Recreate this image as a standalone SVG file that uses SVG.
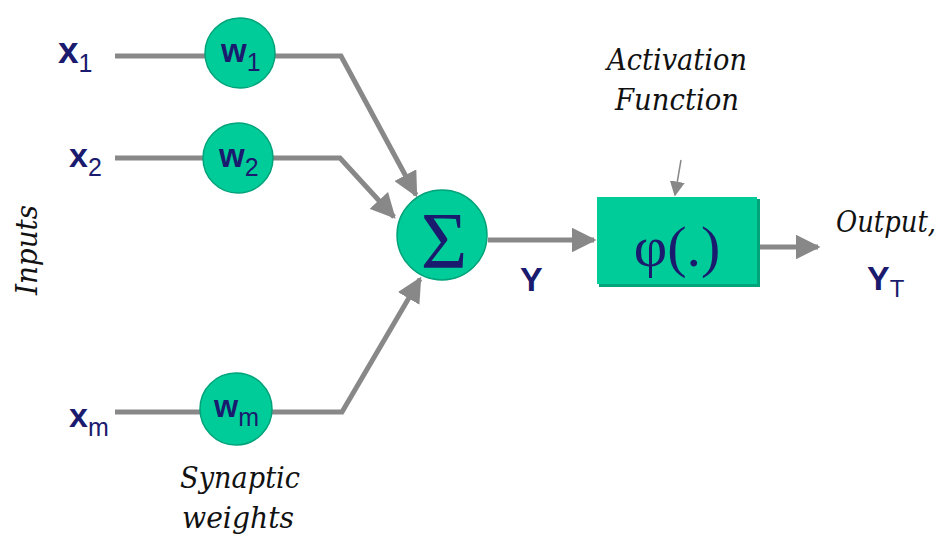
<svg xmlns="http://www.w3.org/2000/svg" width="951" height="538" viewBox="0 0 951 538">
<style>
.node{fill:#00CC99;stroke:#00A37A;stroke-width:1.5}
.lbl{font-family:"Liberation Sans",Arial,sans-serif;font-weight:bold;fill:#1A1A6E}
.sub{font-weight:normal}
.it{font-family:"DejaVu Serif",serif;font-style:italic;font-size:29px;fill:#111}
.wire{fill:none;stroke:#888;stroke-width:5}
</style>
<defs>
<marker id="ah" viewBox="0 0 10 10" refX="9" refY="5" markerWidth="5" markerHeight="5" markerUnits="strokeWidth" orient="auto">
<path d="M0,0 L10,5 L0,10 Z" fill="#888"/>
</marker>
<marker id="ahs" viewBox="0 0 10 10" refX="9" refY="5" markerWidth="10" markerHeight="10" markerUnits="strokeWidth" orient="auto">
<path d="M0,0 L10,5 L0,10 Z" fill="#888"/>
</marker>
</defs>
<rect width="951" height="538" fill="#fff"/>
<g id="connectors">
<path class="wire" d="M115,56 H205"/>
<path class="wire" d="M115,158 H203"/>
<path class="wire" d="M115,412 H200"/>
<path class="wire" d="M275,56 H341 L416,195" marker-end="url(#ah)"/>
<path class="wire" d="M273,158 H340 L394,217" marker-end="url(#ah)"/>
<path class="wire" d="M272,412 H342 L420,279" marker-end="url(#ah)"/>
<path class="wire" d="M488,240 H594" marker-end="url(#ah)"/>
<path class="wire" d="M759,247 H818" marker-end="url(#ah)"/>
<path fill="none" stroke="#888" stroke-width="1.5" d="M681,160 L675,195" marker-end="url(#ahs)"/>
</g>
<g id="x1"><text class="lbl" x="58" y="63" font-size="37">x<tspan class="sub" font-size="25" dy="9">1</tspan></text></g>
<g id="x2"><text class="lbl" x="69" y="167" font-size="34">x<tspan class="sub" font-size="25" dy="9">2</tspan></text></g>
<g id="xm"><text class="lbl" x="69" y="427" font-size="34">x<tspan class="sub" font-size="25" dy="9">m</tspan></text></g>
<g id="w1"><circle class="node" cx="240" cy="53" r="35"/><text class="lbl" x="221" y="62" font-size="33">w<tspan class="sub" font-size="25" dy="9">1</tspan></text></g>
<g id="w2"><circle class="node" cx="238" cy="158" r="35"/><text class="lbl" x="219" y="167" font-size="33">w<tspan class="sub" font-size="25" dy="9">2</tspan></text></g>
<g id="wm"><circle class="node" cx="236" cy="409" r="36"/><text class="lbl" x="214" y="417" font-size="31">w<tspan class="sub" font-size="25" dy="9">m</tspan></text></g>
<g id="sum"><circle class="node" cx="442" cy="235" r="45"/><text x="444" y="268" text-anchor="middle" font-family="Liberation Serif, Times New Roman, serif" font-size="80" fill="#1A1A6E">Σ</text></g>
<g id="Y"><text class="lbl" x="520" y="291" font-size="34">Y</text></g>
<g id="act">
<rect x="599" y="199" width="161" height="88" fill="#00A37A"/>
<rect x="597" y="197" width="160" height="87" fill="#00CC99"/>
<text x="677" y="266" text-anchor="middle" font-family="Liberation Serif, Times New Roman, serif" font-size="58" fill="#1A1A6E">φ(.)</text>
</g>
<g id="actlabel">
<text class="it" x="677" y="70" text-anchor="middle" textLength="140" lengthAdjust="spacingAndGlyphs">Activation</text>
<text class="it" x="677" y="110" text-anchor="middle" textLength="124" lengthAdjust="spacingAndGlyphs">Function</text>
</g>
<g id="output">
<text class="it" x="836" y="232" textLength="100" lengthAdjust="spacingAndGlyphs">Output,</text>
<text class="lbl" x="867" y="290" font-size="34">Y<tspan class="sub" font-size="24" dy="7">T</tspan></text>
</g>
<g id="inputs"><text class="it" transform="translate(37,250) rotate(-90)" text-anchor="middle" textLength="90" lengthAdjust="spacingAndGlyphs">Inputs</text></g>
<g id="synlabel">
<text class="it" x="240" y="488" text-anchor="middle" textLength="120" lengthAdjust="spacingAndGlyphs">Synaptic</text>
<text class="it" x="238" y="528" text-anchor="middle" textLength="112" lengthAdjust="spacingAndGlyphs">weights</text>
</g>
</svg>
